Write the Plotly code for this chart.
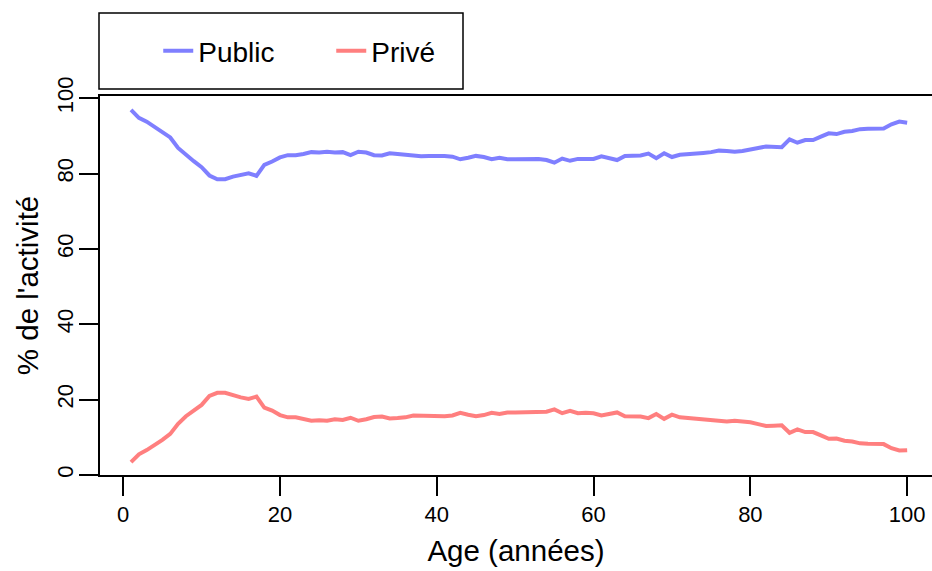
import plotly.graph_objects as go

# Share of activity by patient age, public vs private sector
ages = list(range(1, 101))

public = [
    96.9, 94.8, 93.8, 92.5, 91.1, 89.6, 86.8, 84.9, 83.3, 81.7,
    79.5, 78.5, 78.5, 79.2, 79.7, 80.1, 79.4, 82.3, 83.2, 84.3,
    84.9, 84.9, 85.2, 85.7, 85.6, 85.8, 85.6, 85.7, 84.9, 85.8,
    85.6, 84.9, 84.8, 85.4, 85.2, 85.0, 84.6, 84.6, 84.7, 84.8,
    84.7, 84.5, 83.8, 84.2, 84.7, 84.4, 83.8, 84.2, 83.8, 83.8,
    83.8, 83.9, 83.9, 83.6, 82.9, 84.0, 83.4, 83.9, 83.8, 83.9,
    84.6, 84.2, 83.6, 84.7, 84.8, 84.8, 85.3, 84.1, 85.4, 84.4,
    85.0, 85.1, 85.3, 85.5, 85.7, 86.1, 86.0, 85.8, 86.0, 86.3,
    86.8, 87.2, 87.1, 87.0, 89.1, 88.2, 88.9, 88.9, 89.8, 90.7,
    90.5, 91.1, 91.3, 91.8, 91.9, 91.9, 92.0, 93.1, 93.8, 93.5,
]

prive = [
    3.4, 5.5, 6.6, 7.9, 9.3, 10.9, 13.6, 15.6, 17.1, 18.6,
    21.0, 21.8, 21.8, 21.1, 20.6, 20.2, 20.8, 17.9, 17.1, 15.9,
    15.3, 15.3, 14.9, 14.4, 14.5, 14.4, 14.8, 14.6, 15.2, 14.4,
    14.8, 15.4, 15.5, 15.0, 15.1, 15.3, 15.8, 15.7, 15.7, 15.7,
    15.6, 15.8, 16.5, 16.0, 15.6, 15.9, 16.5, 16.2, 16.6, 16.6,
    16.6, 16.6, 16.6, 16.8, 17.4, 16.4, 17.0, 16.4, 16.5, 16.4,
    15.8, 16.2, 16.6, 15.6, 15.5, 15.5, 15.1, 16.2, 14.9, 16.0,
    15.3, 15.1, 15.0, 14.8, 14.6, 14.2, 14.2, 14.4, 14.2, 14.0,
    13.5, 13.0, 13.1, 13.2, 11.2, 12.1, 11.4, 11.4, 10.5, 9.6,
    9.7, 9.1, 8.9, 8.4, 8.3, 8.3, 8.2, 7.1, 6.5, 6.6,
]

x_ticks = [0, 20, 40, 60, 80, 100]
y_ticks = [0, 20, 40, 60, 80, 100]

FONT = "Liberation Sans, Arial, Helvetica, sans-serif"
BLUE = "rgba(0,0,255,0.5)"
RED = "rgba(255,0,0,0.5)"

fig = go.Figure()
fig.add_trace(go.Scatter(x=ages, y=public, mode="lines", name="Public",
                         line=dict(color=BLUE, width=4)))
fig.add_trace(go.Scatter(x=ages, y=prive, mode="lines", name="Privé",
                         line=dict(color=RED, width=4)))

axis_common = dict(
    showgrid=False, zeroline=False, showline=True, linecolor="black",
    linewidth=1.5, ticks="outside", ticklen=19, tickwidth=1.5,
    tickcolor="black", tickfont=dict(family=FONT, size=22, color="black"),
)

fig.update_layout(
    width=932, height=571,
    margin=dict(l=100, r=0, t=96, b=96),
    paper_bgcolor="white", plot_bgcolor="white",
    font=dict(family=FONT, color="black"),
    xaxis=dict(range=[-2.96, 103.17], tickvals=x_ticks, mirror=True,
               title=dict(text="Age (années)", font=dict(family=FONT, size=29.5),
                          standoff=14),
               **axis_common),
    yaxis=dict(range=[0, 100.6], tickvals=y_ticks, tickangle=-90,
               ticklabelstandoff=-3,
               title=dict(text="% de l'activité", font=dict(family=FONT, size=29.5),
                          standoff=6),
               **axis_common),
    showlegend=True,
    legend=dict(orientation="h", x=0.07, xanchor="left", y=1.1187,
                yanchor="middle", font=dict(family=FONT, size=28),
                bgcolor="rgba(0,0,0,0)", borderwidth=0, entrywidth=128,
                entrywidthmode="pixels"),
    shapes=[dict(type="rect", xref="paper", yref="paper",
                 x0=-0.0012, x1=0.4363, y0=1.0185, y1=1.219,
                 line=dict(color="black", width=1.5), fillcolor="rgba(0,0,0,0)")],
)

fig.write_html("out.html")
